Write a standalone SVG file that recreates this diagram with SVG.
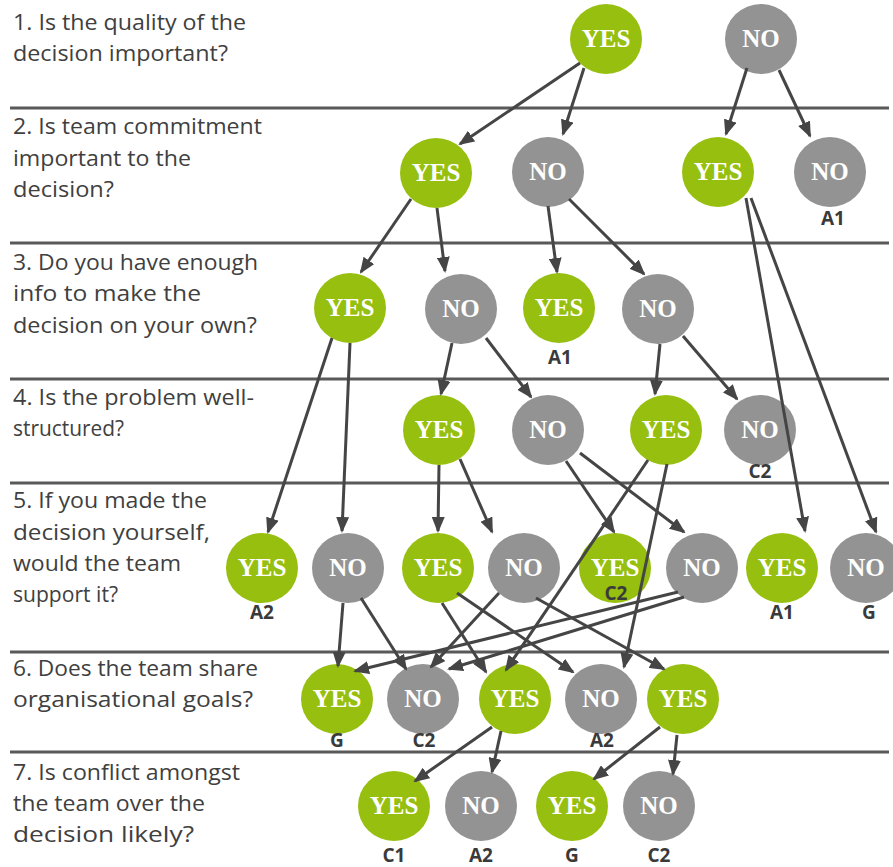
<svg xmlns="http://www.w3.org/2000/svg" width="893" height="867" viewBox="0 0 893 867">
<style>
.bg{fill:#ffffff}
.rule{stroke:#595959;stroke-width:3}
.q{font-family:"Open Sans","Liberation Sans",sans-serif;font-size:21px;fill:#404040}
.y{fill:#96bf0f}
.n{fill:#939393}
.t{font-family:"Liberation Serif","Times New Roman",serif;font-weight:bold;font-size:25px;fill:#ffffff;text-anchor:middle}
.lab{font-family:"Open Sans","Liberation Sans",sans-serif;font-weight:bold;font-size:19px;fill:#3a3a3a;text-anchor:middle}
.e{stroke:#454545;stroke-width:3;fill:none;marker-end:url(#ah)}
</style>
<defs>
<marker id="ah" markerUnits="userSpaceOnUse" viewBox="0 0 16 13" refX="14" refY="6.5" markerWidth="16" markerHeight="13" orient="auto">
<path d="M0,0 L16,6.5 L0,13 z" fill="#454545"/>
</marker>
</defs>
<rect class="bg" x="0" y="0" width="893" height="867"/>
<g id="rules">
<line class="rule" x1="10" y1="108" x2="889" y2="108"/>
<line class="rule" x1="10" y1="243" x2="889" y2="243"/>
<line class="rule" x1="10" y1="379" x2="889" y2="379"/>
<line class="rule" x1="10" y1="483" x2="889" y2="483"/>
<line class="rule" x1="10" y1="652" x2="889" y2="652"/>
<line class="rule" x1="10" y1="752" x2="889" y2="752"/>
</g>
<g id="questions">
<text class="q" x="13" y="30" textLength="233" lengthAdjust="spacingAndGlyphs">1. Is the quality of the</text>
<text class="q" x="13" y="61" textLength="215" lengthAdjust="spacingAndGlyphs">decision important?</text>
<text class="q" x="13" y="134" textLength="249" lengthAdjust="spacingAndGlyphs">2. Is team commitment</text>
<text class="q" x="13" y="166" textLength="178" lengthAdjust="spacingAndGlyphs">important to the</text>
<text class="q" x="13" y="197" textLength="101" lengthAdjust="spacingAndGlyphs">decision?</text>
<text class="q" x="13" y="270" textLength="245" lengthAdjust="spacingAndGlyphs">3. Do you have enough</text>
<text class="q" x="13" y="301" textLength="188" lengthAdjust="spacingAndGlyphs">info to make the</text>
<text class="q" x="13" y="333" textLength="244" lengthAdjust="spacingAndGlyphs">decision on your own?</text>
<text class="q" x="13" y="405" textLength="241" lengthAdjust="spacingAndGlyphs">4. Is the problem well-</text>
<text class="q" x="13" y="436" textLength="111" lengthAdjust="spacingAndGlyphs">structured?</text>
<text class="q" x="13" y="508" textLength="194" lengthAdjust="spacingAndGlyphs">5. If you made the</text>
<text class="q" x="13" y="540" textLength="197" lengthAdjust="spacingAndGlyphs">decision yourself,</text>
<text class="q" x="13" y="571" textLength="168" lengthAdjust="spacingAndGlyphs">would the team</text>
<text class="q" x="13" y="602" textLength="105" lengthAdjust="spacingAndGlyphs">support it?</text>
<text class="q" x="13" y="676" textLength="245" lengthAdjust="spacingAndGlyphs">6. Does the team share</text>
<text class="q" x="13" y="707" textLength="240" lengthAdjust="spacingAndGlyphs">organisational goals?</text>
<text class="q" x="13" y="780" textLength="227" lengthAdjust="spacingAndGlyphs">7. Is conflict amongst</text>
<text class="q" x="13" y="811" textLength="192" lengthAdjust="spacingAndGlyphs">the team over the</text>
<text class="q" x="13" y="842" textLength="181" lengthAdjust="spacingAndGlyphs">decision likely?</text>
</g>
<g id="nodes">
<g id="l1-yes"><ellipse class="y" cx="606" cy="39" rx="36" ry="35"/><text class="t" x="606" y="47">YES</text></g>
<g id="l1-no"><ellipse class="n" cx="761" cy="39" rx="36" ry="35"/><text class="t" x="761" y="47">NO</text></g>

<g id="l2-yes-a"><ellipse class="y" cx="436" cy="173" rx="36" ry="35"/><text class="t" x="436" y="181">YES</text></g>
<g id="l2-no-a"><ellipse class="n" cx="548" cy="172" rx="36" ry="35"/><text class="t" x="548" y="180">NO</text></g>
<g id="l2-yes-b"><ellipse class="y" cx="718" cy="172" rx="36" ry="35"/><text class="t" x="718" y="180">YES</text></g>
<g id="l2-no-b"><ellipse class="n" cx="830" cy="172" rx="36" ry="35"/><text class="t" x="830" y="180">NO</text><text class="lab" x="833" y="225">A1</text></g>

<g id="l3-yes-a"><ellipse class="y" cx="350" cy="308" rx="36" ry="35"/><text class="t" x="350" y="316">YES</text></g>
<g id="l3-no-a"><ellipse class="n" cx="461" cy="309" rx="36" ry="35"/><text class="t" x="461" y="317">NO</text></g>
<g id="l3-yes-b"><ellipse class="y" cx="559" cy="308" rx="36" ry="35"/><text class="t" x="559" y="316">YES</text><text class="lab" x="560" y="364">A1</text></g>
<g id="l3-no-b"><ellipse class="n" cx="658" cy="309" rx="36" ry="35"/><text class="t" x="658" y="317">NO</text></g>

<g id="l4-yes-a"><ellipse class="y" cx="439" cy="430" rx="36" ry="35"/><text class="t" x="439" y="438">YES</text></g>
<g id="l4-no-a"><ellipse class="n" cx="548" cy="430" rx="36" ry="35"/><text class="t" x="548" y="438">NO</text></g>
<g id="l4-yes-b"><ellipse class="y" cx="666" cy="430" rx="36" ry="35"/><text class="t" x="666" y="438">YES</text></g>
<g id="l4-no-b"><ellipse class="n" cx="760" cy="430" rx="36" ry="35"/><text class="t" x="760" y="438">NO</text><text class="lab" x="760" y="478">C2</text></g>

<g id="l5-yes-a"><ellipse class="y" cx="262" cy="568" rx="36" ry="35"/><text class="t" x="262" y="576">YES</text><text class="lab" x="262" y="619">A2</text></g>
<g id="l5-no-a"><ellipse class="n" cx="348" cy="568" rx="36" ry="35"/><text class="t" x="348" y="576">NO</text></g>
<g id="l5-yes-b"><ellipse class="y" cx="438" cy="568" rx="36" ry="35"/><text class="t" x="438" y="576">YES</text></g>
<g id="l5-no-b"><ellipse class="n" cx="524" cy="568" rx="36" ry="35"/><text class="t" x="524" y="576">NO</text></g>
<g id="l5-yes-c"><ellipse class="y" cx="615" cy="568" rx="36" ry="35"/><text class="t" x="615" y="576">YES</text><text class="lab" x="616" y="600">C2</text></g>
<g id="l5-no-c"><ellipse class="n" cx="702" cy="568" rx="36" ry="35"/><text class="t" x="702" y="576">NO</text></g>
<g id="l5-yes-d"><ellipse class="y" cx="782" cy="568" rx="36" ry="35"/><text class="t" x="782" y="576">YES</text><text class="lab" x="782" y="619">A1</text></g>
<g id="l5-no-d"><ellipse class="n" cx="866" cy="568" rx="36" ry="35"/><text class="t" x="866" y="576">NO</text><text class="lab" x="869" y="619">G</text></g>

<g id="l6-yes-a"><ellipse class="y" cx="337" cy="699" rx="36" ry="35"/><text class="t" x="337" y="707">YES</text><text class="lab" x="337" y="747">G</text></g>
<g id="l6-no-a"><ellipse class="n" cx="423" cy="699" rx="36" ry="35"/><text class="t" x="423" y="707">NO</text><text class="lab" x="424" y="747">C2</text></g>
<g id="l6-yes-b"><ellipse class="y" cx="515" cy="699" rx="36" ry="35"/><text class="t" x="515" y="707">YES</text></g>
<g id="l6-no-b"><ellipse class="n" cx="601" cy="699" rx="36" ry="35"/><text class="t" x="601" y="707">NO</text><text class="lab" x="602" y="747">A2</text></g>
<g id="l6-yes-c"><ellipse class="y" cx="683" cy="699" rx="36" ry="35"/><text class="t" x="683" y="707">YES</text></g>

<g id="l7-yes-a"><ellipse class="y" cx="394" cy="806" rx="36" ry="35"/><text class="t" x="394" y="814">YES</text><text class="lab" x="394" y="862">C1</text></g>
<g id="l7-no-a"><ellipse class="n" cx="481" cy="806" rx="36" ry="35"/><text class="t" x="481" y="814">NO</text><text class="lab" x="481" y="862">A2</text></g>
<g id="l7-yes-b"><ellipse class="y" cx="572" cy="806" rx="36" ry="35"/><text class="t" x="572" y="814">YES</text><text class="lab" x="572" y="862">G</text></g>
<g id="l7-no-b"><ellipse class="n" cx="659" cy="806" rx="36" ry="35"/><text class="t" x="659" y="814">NO</text><text class="lab" x="659" y="862">C2</text></g>
</g>
<g id="connectors">
<line class="e" x1="580" y1="63" x2="460" y2="144"/>
<line class="e" x1="584" y1="68" x2="563" y2="134"/>
<line class="e" x1="747" y1="68" x2="726" y2="134"/>
<line class="e" x1="779" y1="70" x2="810" y2="136"/>
<line class="e" x1="411" y1="199" x2="361" y2="272"/>
<line class="e" x1="437" y1="208" x2="445" y2="271"/>
<line class="e" x1="548" y1="206" x2="557" y2="272"/>
<line class="e" x1="569" y1="199" x2="644" y2="274"/>
<line class="e" x1="746" y1="198" x2="805" y2="531"/>
<line class="e" x1="751" y1="198" x2="876" y2="532"/>
<line class="e" x1="332" y1="338" x2="268" y2="532"/>
<line class="e" x1="350" y1="343" x2="342" y2="531"/>
<line class="e" x1="452" y1="343" x2="441" y2="394"/>
<line class="e" x1="486" y1="338" x2="531" y2="397"/>
<line class="e" x1="660" y1="344" x2="655" y2="394"/>
<line class="e" x1="683" y1="336" x2="737" y2="399"/>
<line class="e" x1="439" y1="465" x2="438" y2="531"/>
<line class="e" x1="460" y1="459" x2="492" y2="532"/>
<line class="e" x1="566" y1="461" x2="614" y2="532"/>
<line class="e" x1="580" y1="453" x2="684" y2="532"/>
<line class="e" x1="648" y1="460" x2="506" y2="670"/>
<line class="e" x1="667" y1="464" x2="624" y2="667"/>
<line class="e" x1="343" y1="603" x2="338" y2="666"/>
<line class="e" x1="361" y1="598" x2="406" y2="669"/>
<line class="e" x1="442" y1="603" x2="486" y2="672"/>
<line class="e" x1="457" y1="593" x2="573" y2="672"/>
<line class="e" x1="499" y1="593" x2="431" y2="667"/>
<line class="e" x1="536" y1="598" x2="664" y2="669"/>
<line class="e" x1="678" y1="592" x2="355" y2="671"/>
<line class="e" x1="684" y1="597" x2="449" y2="669"/>
<line class="e" x1="492" y1="727" x2="415" y2="781"/>
<line class="e" x1="501" y1="731" x2="492" y2="772"/>
<line class="e" x1="660" y1="727" x2="594" y2="779"/>
<line class="e" x1="677" y1="735" x2="673" y2="774"/>
</g>
</svg>
